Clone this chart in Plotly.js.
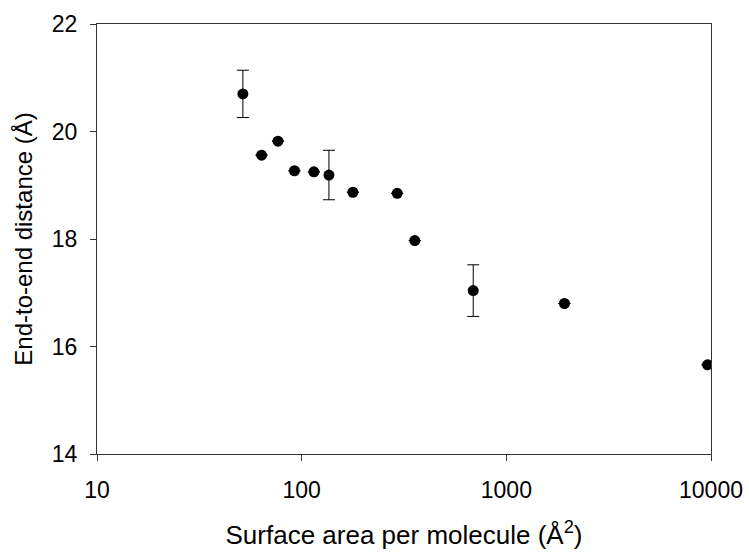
<!DOCTYPE html>
<html>
<head>
<meta charset="utf-8">
<script src="https://cdn.plot.ly/plotly-3.0.1.min.js"></script>
<style>html,body{margin:0;padding:0;background:#fff;}#chart{width:749px;height:553px;}</style>
</head>
<body>
<div id="chart"></div>
<script>
const areas = [51.6, 63.7, 76.6, 92.2, 114.8, 135.9, 178, 293, 357, 689, 1923, 9620];
const distances = [20.70, 19.56, 19.82, 19.27, 19.25, 19.19, 18.87, 18.85, 17.97, 17.04, 16.80, 15.66];
const errors = [0.44, 0, 0, 0, 0, 0.46, 0, 0, 0, 0.48, 0, 0];
const xTickVals = [10, 100, 1000, 10000];
const xTickText = ["10", "100", "1000", "10000"];
const yTickVals = [14, 16, 18, 20, 22];

const errArr = errors.map(e => e > 0 ? e : null);

const trace = {
  x: areas,
  y: distances,
  type: 'scatter',
  mode: 'markers',
  marker: {color: '#000', size: 11},
  error_y: {type: 'data', array: errArr, visible: true, color: '#000', thickness: 1, width: 6},
  hoverinfo: 'x+y'
};

const fam = 'Liberation Sans, Arial, sans-serif';
const tickFont = {family: fam, size: 23, color: '#000'};

const layout = {
  width: 749, height: 553,
  margin: {l: 97, r: 38, t: 24, b: 99},
  paper_bgcolor: '#fff', plot_bgcolor: '#fff',
  showlegend: false,
  font: {family: fam, size: 23, color: '#000'},
  xaxis: {
    type: 'log', range: [1, 4],
    tickvals: xTickVals, ticktext: xTickText,
    ticks: 'outside', ticklen: 6, tickwidth: 1, tickcolor: '#333',
    ticklabelstandoff: 9,
    showline: true, linecolor: '#333', linewidth: 1, mirror: true,
    showgrid: false, zeroline: false,
    tickfont: tickFont,
    title: {text: 'Surface area per molecule (Å<sup>2</sup>)', font: {family: fam, size: 26, color: '#000'}, standoff: 24}
  },
  yaxis: {
    range: [14, 22],
    tickvals: yTickVals,
    ticks: 'outside', ticklen: 6, tickwidth: 1, tickcolor: '#333',
    ticklabelstandoff: 8,
    showline: true, linecolor: '#333', linewidth: 1, mirror: true,
    showgrid: false, zeroline: false,
    tickfont: tickFont,
    title: {text: 'End-to-end distance (Å)', font: {family: fam, size: 24, color: '#000'}, standoff: 12}
  }
};

Plotly.newPlot('chart', [trace], layout, {displayModeBar: false, staticPlot: true});
</script>
</body>
</html>
